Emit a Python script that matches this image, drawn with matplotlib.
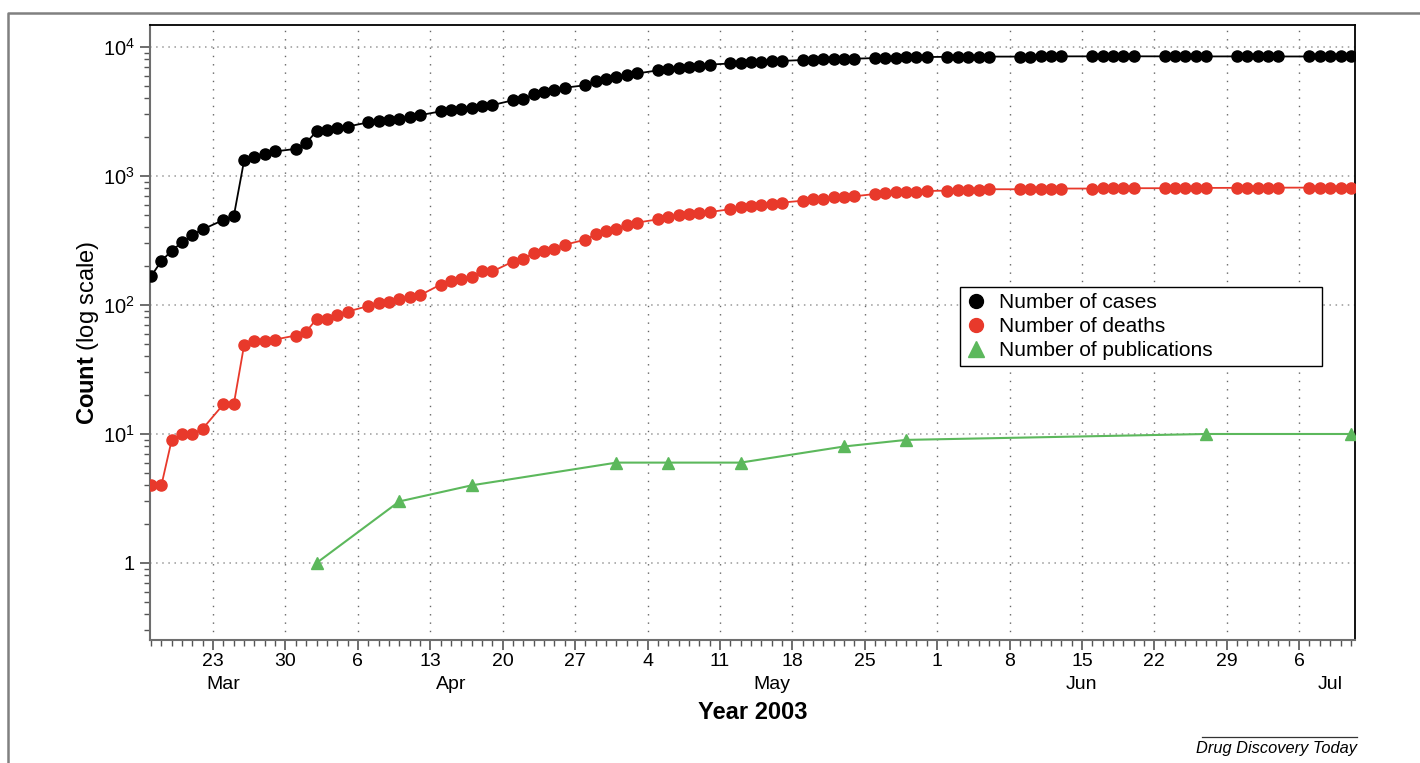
import numpy as np
import matplotlib
matplotlib.use('Agg')
import matplotlib.pyplot as plt
import matplotlib.dates as mdates
import matplotlib.ticker as mticker
from matplotlib.lines import Line2D
from matplotlib.transforms import blended_transform_factory
from datetime import datetime, timedelta

plt.rcParams['font.family'] = ['Liberation Sans', 'DejaVu Sans']
plt.rcParams['mathtext.fontset'] = 'custom'
plt.rcParams['mathtext.rm'] = 'Liberation Sans'
plt.rcParams['mathtext.it'] = 'Liberation Sans:italic'
plt.rcParams['mathtext.bf'] = 'Liberation Sans:bold'

# WHO cumulative totals, 2003 (no reports on Sundays, later weekdays only)
report_dates = [
    '03-17', '03-18', '03-19', '03-20', '03-21', '03-22',
    '03-24', '03-25', '03-26', '03-27', '03-28', '03-29',
    '03-31', '04-01', '04-02', '04-03', '04-04', '04-05',
    '04-07', '04-08', '04-09', '04-10', '04-11', '04-12',
    '04-14', '04-15', '04-16', '04-17', '04-18', '04-19',
    '04-21', '04-22', '04-23', '04-24', '04-25', '04-26',
    '04-28', '04-29', '04-30', '05-01', '05-02', '05-03',
    '05-05', '05-06', '05-07', '05-08', '05-09', '05-10',
    '05-12', '05-13', '05-14', '05-15', '05-16', '05-17',
    '05-19', '05-20', '05-21', '05-22', '05-23', '05-24',
    '05-26', '05-27', '05-28', '05-29', '05-30', '05-31',
    '06-02', '06-03', '06-04', '06-05', '06-06',
    '06-09', '06-10', '06-11', '06-12', '06-13',
    '06-16', '06-17', '06-18', '06-19', '06-20',
    '06-23', '06-24', '06-25', '06-26', '06-27',
    '06-30', '07-01', '07-02', '07-03', '07-04',
    '07-07', '07-08', '07-09', '07-10', '07-11',
]

cases = [
    167, 219, 264, 306, 350, 386,
    456, 487, 1323, 1408, 1485, 1550,
    1622, 1804, 2223, 2270, 2353, 2416,
    2601, 2671, 2722, 2781, 2890, 2960,
    3169, 3235, 3293, 3389, 3510, 3547,
    3861, 3947, 4288, 4439, 4649, 4836,
    5050, 5462, 5663, 5865, 6054, 6234,
    6583, 6727, 6903, 7053, 7183, 7296,
    7447, 7548, 7628, 7699, 7761, 7800,
    7919, 7956, 8000, 8046, 8070, 8110,
    8202, 8221, 8240, 8295, 8320, 8360,
    8384, 8402, 8403, 8404, 8421,
    8421, 8430, 8445, 8445, 8454,
    8460, 8464, 8465, 8465, 8462,
    8458, 8460, 8458, 8454, 8445,
    8450, 8450, 8445, 8442, 8439,
    8439, 8439, 8438, 8437, 8437,
]

deaths = [
    4, 4, 9, 10, 10, 11,
    17, 17, 49, 53, 53, 54,
    58, 62, 78, 78, 84, 89,
    98, 103, 106, 111, 116, 119,
    144, 154, 159, 165, 182, 182,
    217, 229, 251, 263, 274, 293,
    321, 353, 372, 391, 417, 435,
    461, 478, 495, 506, 514, 526,
    552, 573, 587, 598, 611, 622,
    643, 662, 666, 682, 690, 696,
    725, 738, 747, 751, 755, 765,
    770, 772, 774, 775, 789,
    789, 790, 791, 792, 799,
    799, 800, 801, 801, 804,
    804, 805, 806, 807, 808,
    809, 810, 811, 812, 812,
    812, 812, 813, 813, 813,
]

pub_dates = ['04-02', '04-10', '04-17', '05-01', '05-06',
             '05-13', '05-23', '05-29', '06-27', '07-11']
publications = [1, 3, 4, 6, 6, 6, 8, 9, 10, 10]

months = ['Mar', 'Apr', 'May', 'Jun', 'Jul']
month_centres = ['03-24', '04-15', '05-16', '06-15', '07-09']

y_ticks = [1, 10, 100, 1000, 10000]
y_labels = ['1', r'$10^1$', r'$10^2$', r'$10^3$', r'$10^4$']


def to_date(s):
    return datetime.strptime('2003-' + s, '%Y-%m-%d')


x_rep = [to_date(d) for d in report_dates]
x_pub = [to_date(d) for d in pub_dates]

red = '#e8392b'
green = '#5cb85c'

fig = plt.figure(figsize=(14.2, 7.63), dpi=100)
ax = fig.add_axes([150 / 1420, 1 - 640 / 763, 1205 / 1420, 615 / 763])

ax.plot(x_rep, cases, color='black', lw=1.3, marker='o', ms=8, zorder=3)
ax.plot(x_rep, deaths, color=red, lw=1.3, marker='o', ms=8, zorder=3)
ax.plot(x_pub, publications, color=green, lw=1.5, marker='^', ms=9, zorder=3)

ax.set_yscale('log')
ax.set_ylim(0.253, 14800)
ax.set_xlim(to_date('03-17') - timedelta(days=0.1), to_date('07-11') + timedelta(days=0.4))

ax.set_yticks(y_ticks)
ax.set_yticklabels(y_labels)
ax.yaxis.set_minor_locator(mticker.LogLocator(base=10, subs=np.arange(2, 10)))
ax.yaxis.set_minor_formatter(mticker.NullFormatter())

ax.xaxis.set_major_locator(mdates.WeekdayLocator(byweekday=mdates.SU))
ax.xaxis.set_minor_locator(mdates.DayLocator())
ax.xaxis.set_major_formatter(mticker.FuncFormatter(lambda v, p: str(mdates.num2date(v).day)))

ax.tick_params(axis='both', which='major', direction='out', length=7, width=1.2,
               color='#555555', labelsize=14.5, pad=4)
ax.tick_params(axis='both', which='minor', direction='out', length=4.5, width=1,
               color='#555555')
ax.tick_params(axis='x', which='major', labelsize=14, pad=2)

ax.grid(True, which='major', axis='y', color='#999999', lw=1.1, linestyle=(0, (1, 3)))
ax.grid(True, which='major', axis='x', color='#666666', lw=1.0, linestyle=(0, (1, 5)))

for side in ['left', 'bottom']:
    ax.spines[side].set_color('#6e6e6e')
    ax.spines[side].set_linewidth(1.5)
for side in ['top', 'right']:
    ax.spines[side].set_color('black')
    ax.spines[side].set_linewidth(1.3)

# month names on a second row under the day numbers
trans = blended_transform_factory(ax.transData, ax.transAxes)
for name, c in zip(months, month_centres):
    ax.text(to_date(c), -0.058, name, transform=trans, ha='center', va='top', fontsize=14)

ax.set_xlabel('Year 2003', fontsize=17, fontweight='bold', labelpad=23)
ax.set_ylabel(r'$\mathbf{Count}$ (log scale)', fontsize=17, labelpad=1)

handles = [
    Line2D([], [], color='black', marker='o', ls='none', ms=10),
    Line2D([], [], color=red, marker='o', ls='none', ms=10),
    Line2D([], [], color=green, marker='^', ls='none', ms=11),
]
leg = ax.legend(handles, ['Number of cases', 'Number of deaths', 'Number of publications'],
                loc='upper left', bbox_to_anchor=(0.672, 0.4472, 0.3004, 0.1268),
                mode='expand', borderaxespad=0,
                fontsize=15, frameon=True, fancybox=False, framealpha=1,
                edgecolor='black', handlelength=1.0, handletextpad=0.6,
                labelspacing=0.24, borderpad=0.3)
leg.get_frame().set_linewidth(1.0)
leg.set_zorder(5)

# outer frame along top and left edge
fig.add_artist(Line2D([8 / 1420, 8 / 1420, 1.0], [0.0, 1 - 13 / 763, 1 - 13 / 763],
                      transform=fig.transFigure, color='#808080', lw=1.8))

# journal credit with rule above
fig.add_artist(Line2D([1202 / 1420, 1357 / 1420], [1 - 737 / 763, 1 - 737 / 763],
                      transform=fig.transFigure, color='#333333', lw=0.9))
fig.text(1357 / 1420, 1 - 748 / 763, 'Drug Discovery Today', ha='right', va='center',
         fontsize=11.8, style='italic')

fig.savefig('out.png', dpi=100)
